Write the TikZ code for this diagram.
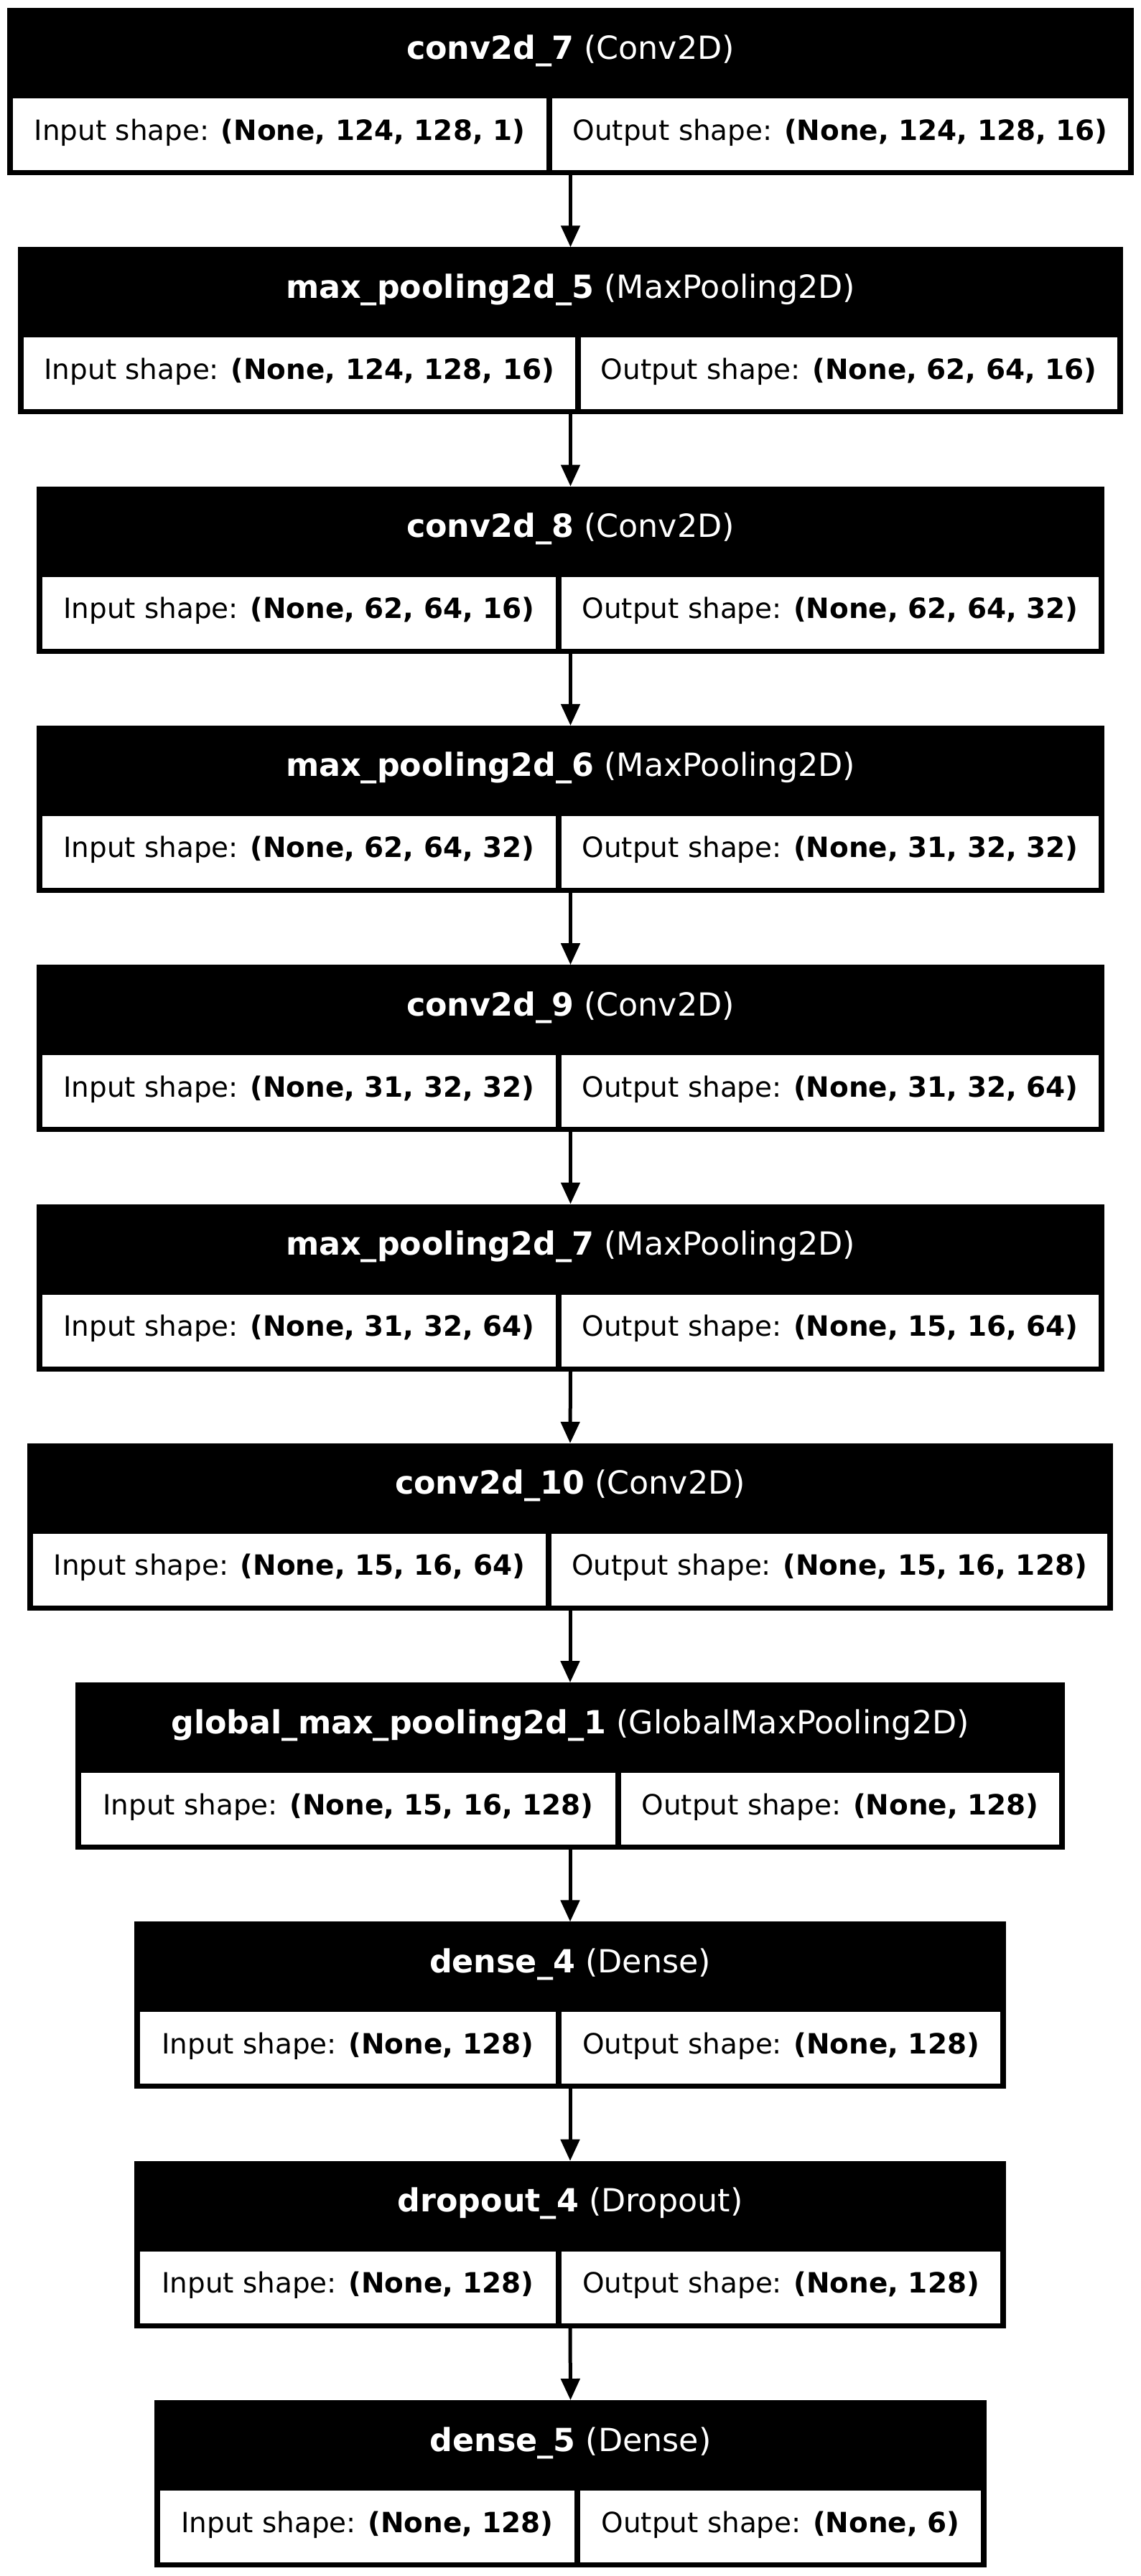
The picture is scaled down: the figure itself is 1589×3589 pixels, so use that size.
\documentclass[tikz,border=0pt]{standalone}
\usepackage{fontspec}
\setmainfont{DejaVu Sans}
\usetikzlibrary{arrows.meta}
\tikzset{
  outerbox/.style={draw=none, fill=black, inner sep=0pt, outer sep=0pt, rectangle},
  headtext/.style={text=white, font=\fontsize{22.2pt}{26pt}\selectfont, inner sep=0pt, anchor=base},
  celltext/.style={text=black, font=\fontsize{19.45pt}{23pt}\selectfont, inner sep=0pt, anchor=base},
  cellfill/.style={fill=white},
  arr/.style={line width=2.5pt, -{Triangle[length=15pt,width=13pt]}},
}
\newcommand{\kblock}[9]{%
  \node[outerbox, minimum width={(#5-#3)*0.5pt}, minimum height=116.5pt] (#1) at ({(#3+#5)/2},{#2+116.5}) {};
  \fill[cellfill] ({#3+8},{#2+126}) rectangle ({#4-4},{#2+226});
  \fill[cellfill] ({#4+4},{#2+126}) rectangle ({#5-8},{#2+226});
  \node[headtext] (#1h) at ({(#3+#5)/2},{#2+71}) {\textbf{#6} #7};
  \node[celltext] (#1i) at ({(#3+8+#4-4)/2},{#2+184}) {Input shape: \textbf{#8}};
  \node[celltext] (#1o) at ({(#4+4+#5-8)/2},{#2+184}) {Output shape: \textbf{#9}};
}
\begin{document}
\begin{tikzpicture}[x=0.5pt,y=-0.5pt]
  \useasboundingbox (0,0) rectangle (1589,3589);
  \fill[white] (0,0) rectangle (1589,3589);
  \kblock{b1}{11}{10}{765}{1579}{conv2d\_7}{(Conv2D)}{(None, 124, 128, 1)}{(None, 124, 128, 16)}
  \kblock{b2}{344.3}{25}{804.5}{1564}{max\_pooling2d\_5}{(MaxPooling2D)}{(None, 124, 128, 16)}{(None, 62, 64, 16)}
  \kblock{b3}{677.6}{51}{778}{1538}{conv2d\_8}{(Conv2D)}{(None, 62, 64, 16)}{(None, 62, 64, 32)}
  \kblock{b4}{1010.9}{51}{778}{1538}{max\_pooling2d\_6}{(MaxPooling2D)}{(None, 62, 64, 32)}{(None, 31, 32, 32)}
  \kblock{b5}{1344.2}{51}{778}{1538}{conv2d\_9}{(Conv2D)}{(None, 31, 32, 32)}{(None, 31, 32, 64)}
  \kblock{b6}{1677.5}{51}{778}{1538}{max\_pooling2d\_7}{(MaxPooling2D)}{(None, 31, 32, 64)}{(None, 15, 16, 64)}
  \kblock{b7}{2010.8}{38}{764}{1550}{conv2d\_10}{(Conv2D)}{(None, 15, 16, 64)}{(None, 15, 16, 128)}
  \kblock{b8}{2344.1}{105}{861}{1483}{global\_max\_pooling2d\_1}{(GlobalMaxPooling2D)}{(None, 15, 16, 128)}{(None, 128)}
  \kblock{b9}{2677.4}{187}{778}{1401}{dense\_4}{(Dense)}{(None, 128)}{(None, 128)}
  \kblock{b10}{3010.7}{187}{778}{1401}{dropout\_4}{(Dropout)}{(None, 128)}{(None, 128)}
  \kblock{b11}{3344}{215}{804}{1374}{dense\_5}{(Dense)}{(None, 128)}{(None, 6)}
  \draw[arr] (b1.south) -- (b2.north);
  \draw[arr] (b2.south) -- (b3.north);
  \draw[arr] (b3.south) -- (b4.north);
  \draw[arr] (b4.south) -- (b5.north);
  \draw[arr] (b5.south) -- (b6.north);
  \draw[arr] (b6.south) -- (b7.north);
  \draw[arr] (b7.south) -- (b8.north);
  \draw[arr] (b8.south) -- (b9.north);
  \draw[arr] (b9.south) -- (b10.north);
  \draw[arr] (b10.south) -- (b11.north);
\end{tikzpicture}
\end{document}
